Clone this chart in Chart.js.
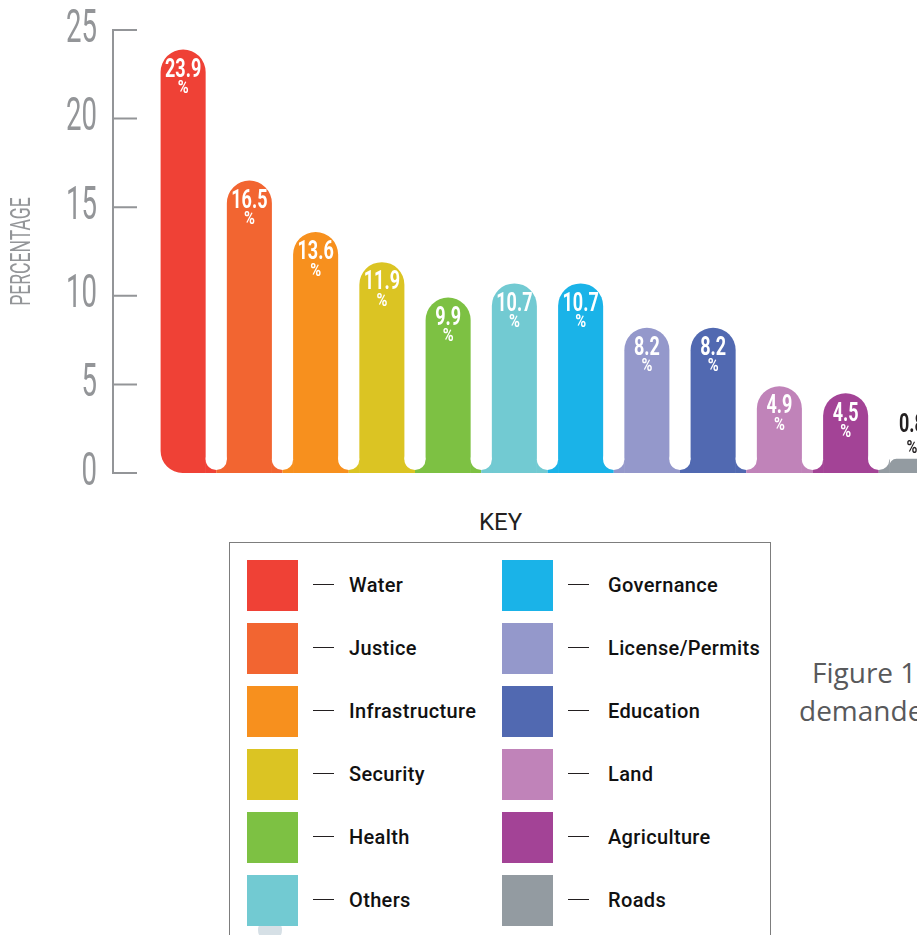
<!DOCTYPE html>
<html>
<head>
<meta charset="utf-8">
<script src="https://cdn.jsdelivr.net/npm/chart.js@4"></script>
<style>
  html, body { margin: 0; padding: 0; background: #fff; width: 917px; height: 935px; overflow: hidden; position: relative; }
  #wrap { position: absolute; left: 0; top: 0; width: 945px; height: 498px; }
  #key { position: absolute; left: 479px; top: 508px; font: 24px Roboto, sans-serif; color: #231f20; }
  #box { position: absolute; left: 229px; top: 542px; width: 540px; height: 420px; border: 1px solid #7d7d7d; }
  .sw { position: absolute; width: 51px; height: 51px; }
  .dash { position: absolute; width: 21px; height: 0; border-top: 1.5px solid #231f20; }
  .lbl { position: absolute; font: 500 20px Roboto, sans-serif; letter-spacing: 0.35px; color: #111; white-space: nowrap; line-height: 22px; }
  .fig { position: absolute; font: 28px "Open Sans", sans-serif; color: #58595b; white-space: nowrap; line-height: 34px; }
  #dot { position: absolute; left: 258px; top: 918px; width: 24px; height: 24px; border-radius: 50%; background: #d6e0e6; }
</style>
</head>
<body>
<div id="wrap"><canvas id="chart" width="945" height="498"></canvas></div>
<div id="key">KEY</div>
<div id="dot"></div>
<div id="box"></div>
<div class="fig" style="left:812px; top:655px;">Figure 1</div>
<div class="fig" style="left:799px; top:693px;">demanded</div>
<script>
// 데이터
const categories = ['Water', 'Justice', 'Infrastructure', 'Security', 'Health', 'Others',
  'Governance', 'License/Permits', 'Education', 'Land', 'Agriculture', 'Roads'];
const values = [23.9, 16.5, 13.6, 11.9, 9.9, 10.7, 10.7, 8.2, 8.2, 4.9, 4.5, 0.8];
const colors = ['#ef4136', '#f26531', '#f7901e', '#dbc423', '#7dc143', '#72cad2',
  '#1ab3e8', '#9498cb', '#5169b1', '#c083b9', '#a34396', '#939ba1'];
const yTicks = [0, 5, 10, 15, 20, 25];

const AXIS = '#939598';
const TICK_PAD = 53;

// 좁은 글꼴이 없어서 가로로 눌러 그림
function condense(scale) {
  if (scale._condensed) return;
  scale._condensed = true;
  const drawLabels = scale.drawLabels.bind(scale);
  const drawTitle = scale.drawTitle.bind(scale);
  scale.drawLabels = (area) => {
    const c = scale.ctx;
    const px = scale.right - TICK_PAD;
    c.save();
    c.translate(px, 0);
    c.scale(0.6, 1);
    c.translate(-px, 0);
    drawLabels(area);
    c.restore();
  };
  scale.drawTitle = () => {
    const c = scale.ctx;
    const cy = (scale.top + scale.bottom) / 2;
    c.save();
    c.translate(0, cy);
    c.scale(1, 0.65);
    c.translate(0, -cy);
    drawTitle();
    c.restore();
  };
}

// 세로축 선 + 눈금 (축 오른쪽으로)
const axisLines = {
  id: 'axisLines',
  afterDraw(chart) {
    const { ctx, chartArea, scales: { y } } = chart;
    const x0 = chartArea.left - 37;
    const x1 = chartArea.left - 13;
    ctx.save();
    ctx.strokeStyle = AXIS;
    ctx.lineWidth = 2;
    ctx.beginPath();
    ctx.moveTo(x0, y.getPixelForValue(yTicks[yTicks.length - 1]) - 1);
    ctx.lineTo(x0, y.getPixelForValue(0) + 1);
    yTicks.forEach((v) => {
      const py = y.getPixelForValue(v);
      ctx.moveTo(x0, py);
      ctx.lineTo(x1, py);
    });
    ctx.stroke();
    ctx.restore();
  },
};

// 막대 사이 아래쪽 둥근 홈
const notches = {
  id: 'notches',
  afterDatasetsDraw(chart) {
    const { ctx, scales: { y } } = chart;
    const bars = chart.getDatasetMeta(0).data;
    const base = y.getPixelForValue(0);
    ctx.save();
    for (let i = 0; i < bars.length - 1; i++) {
      const a = bars[i].getProps(['x', 'width'], true);
      const b = bars[i + 1].getProps(['x', 'width'], true);
      const xR = a.x + a.width / 2;
      const xL = b.x - b.width / 2;
      const mid = (xR + xL) / 2;
      const r = (xL - xR) / 2;
      const cy = base - 3 - r;
      ctx.fillStyle = colors[i];
      ctx.fillRect(xR - 0.5, cy, mid - xR + 0.5, base - cy);
      ctx.fillStyle = colors[i + 1];
      ctx.fillRect(mid, cy, xL - mid + 0.5, base - cy);
      ctx.fillStyle = '#fff';
      ctx.beginPath();
      ctx.arc(mid, cy, r, 0, Math.PI * 2);
      ctx.fill();
    }
    ctx.restore();
  },
};

// 막대 값 라벨
function squeezed(ctx, text, x, y, sx) {
  ctx.save();
  ctx.translate(x, y);
  ctx.scale(sx, 1);
  ctx.fillText(text, 0, 0);
  ctx.restore();
}

const valueLabels = {
  id: 'valueLabels',
  afterDatasetsDraw(chart) {
    const { ctx } = chart;
    const bars = chart.getDatasetMeta(0).data;
    ctx.save();
    ctx.textAlign = 'center';
    ctx.textBaseline = 'middle';
    bars.forEach((bar, i) => {
      const { x, y, base } = bar.getProps(['x', 'y', 'base'], true);
      const inside = base - y > 40;
      ctx.fillStyle = inside ? '#fff' : '#231f20';
      const ny = inside ? y + 21 : y - 33;
      const py = inside ? y + 39 : y - 10;
      ctx.font = 'bold 25px Roboto, sans-serif';
      squeezed(ctx, values[i].toFixed(1), x, ny, 0.72);
      ctx.font = 'bold 18px Roboto, sans-serif';
      squeezed(ctx, '%', x, py, 0.82);
    });
    ctx.restore();
  },
};

new Chart(document.getElementById('chart'), {
  type: 'bar',
  data: {
    labels: categories,
    datasets: [{
      data: values,
      backgroundColor: colors,
      borderSkipped: false,
      borderRadius: (c) => ({
        topLeft: 23, topRight: 23,
        bottomLeft: c.dataIndex === 0 ? 22 : 0, bottomRight: 0,
      }),
      barPercentage: 0.68,
      categoryPercentage: 1,
    }],
  },
  options: {
    responsive: false,
    animation: false,
    layout: { padding: { top: 30, bottom: 25, left: 0, right: 0 } },
    plugins: { legend: { display: false }, tooltip: { enabled: false } },
    scales: {
      x: { display: false, offset: true },
      y: {
        min: 0,
        max: 25,
        afterBuildTicks: (s) => { s.ticks = yTicks.map((v) => ({ value: v })); },
        afterFit: (s) => {
          s.width = 150;
          s.paddingTop = 0;
          s.paddingBottom = 0;
          condense(s);
        },
        grid: { display: false, drawTicks: false },
        border: { display: false },
        ticks: { padding: TICK_PAD, color: AXIS, font: { family: 'Roboto', size: 46, weight: 400 } },
        title: {
          display: true, text: 'PERCENTAGE', color: AXIS,
          font: { family: 'Roboto', size: 27, weight: 400 }, padding: { top: 7, bottom: 0 },
        },
      },
    },
  },
  plugins: [axisLines, notches, valueLabels],
});

// 범례 (KEY)
const box = document.getElementById('box');
categories.forEach((name, i) => {
  const col = i < 6 ? 0 : 1;
  const row = i % 6;
  const top = 17 + row * 63;
  const sx = col === 0 ? 17 : 272;
  const sw = document.createElement('div');
  sw.className = 'sw';
  sw.style.left = sx + 'px';
  sw.style.top = top + 'px';
  sw.style.background = colors[i];
  box.appendChild(sw);
  const d = document.createElement('div');
  d.className = 'dash';
  d.style.left = (sx + 66) + 'px';
  d.style.top = (top + 24) + 'px';
  box.appendChild(d);
  const t = document.createElement('div');
  t.className = 'lbl';
  t.textContent = name;
  t.style.left = (sx + (col === 0 ? 102 : 106)) + 'px';
  t.style.top = (top + 14) + 'px';
  box.appendChild(t);
});
</script>
</body>
</html>
